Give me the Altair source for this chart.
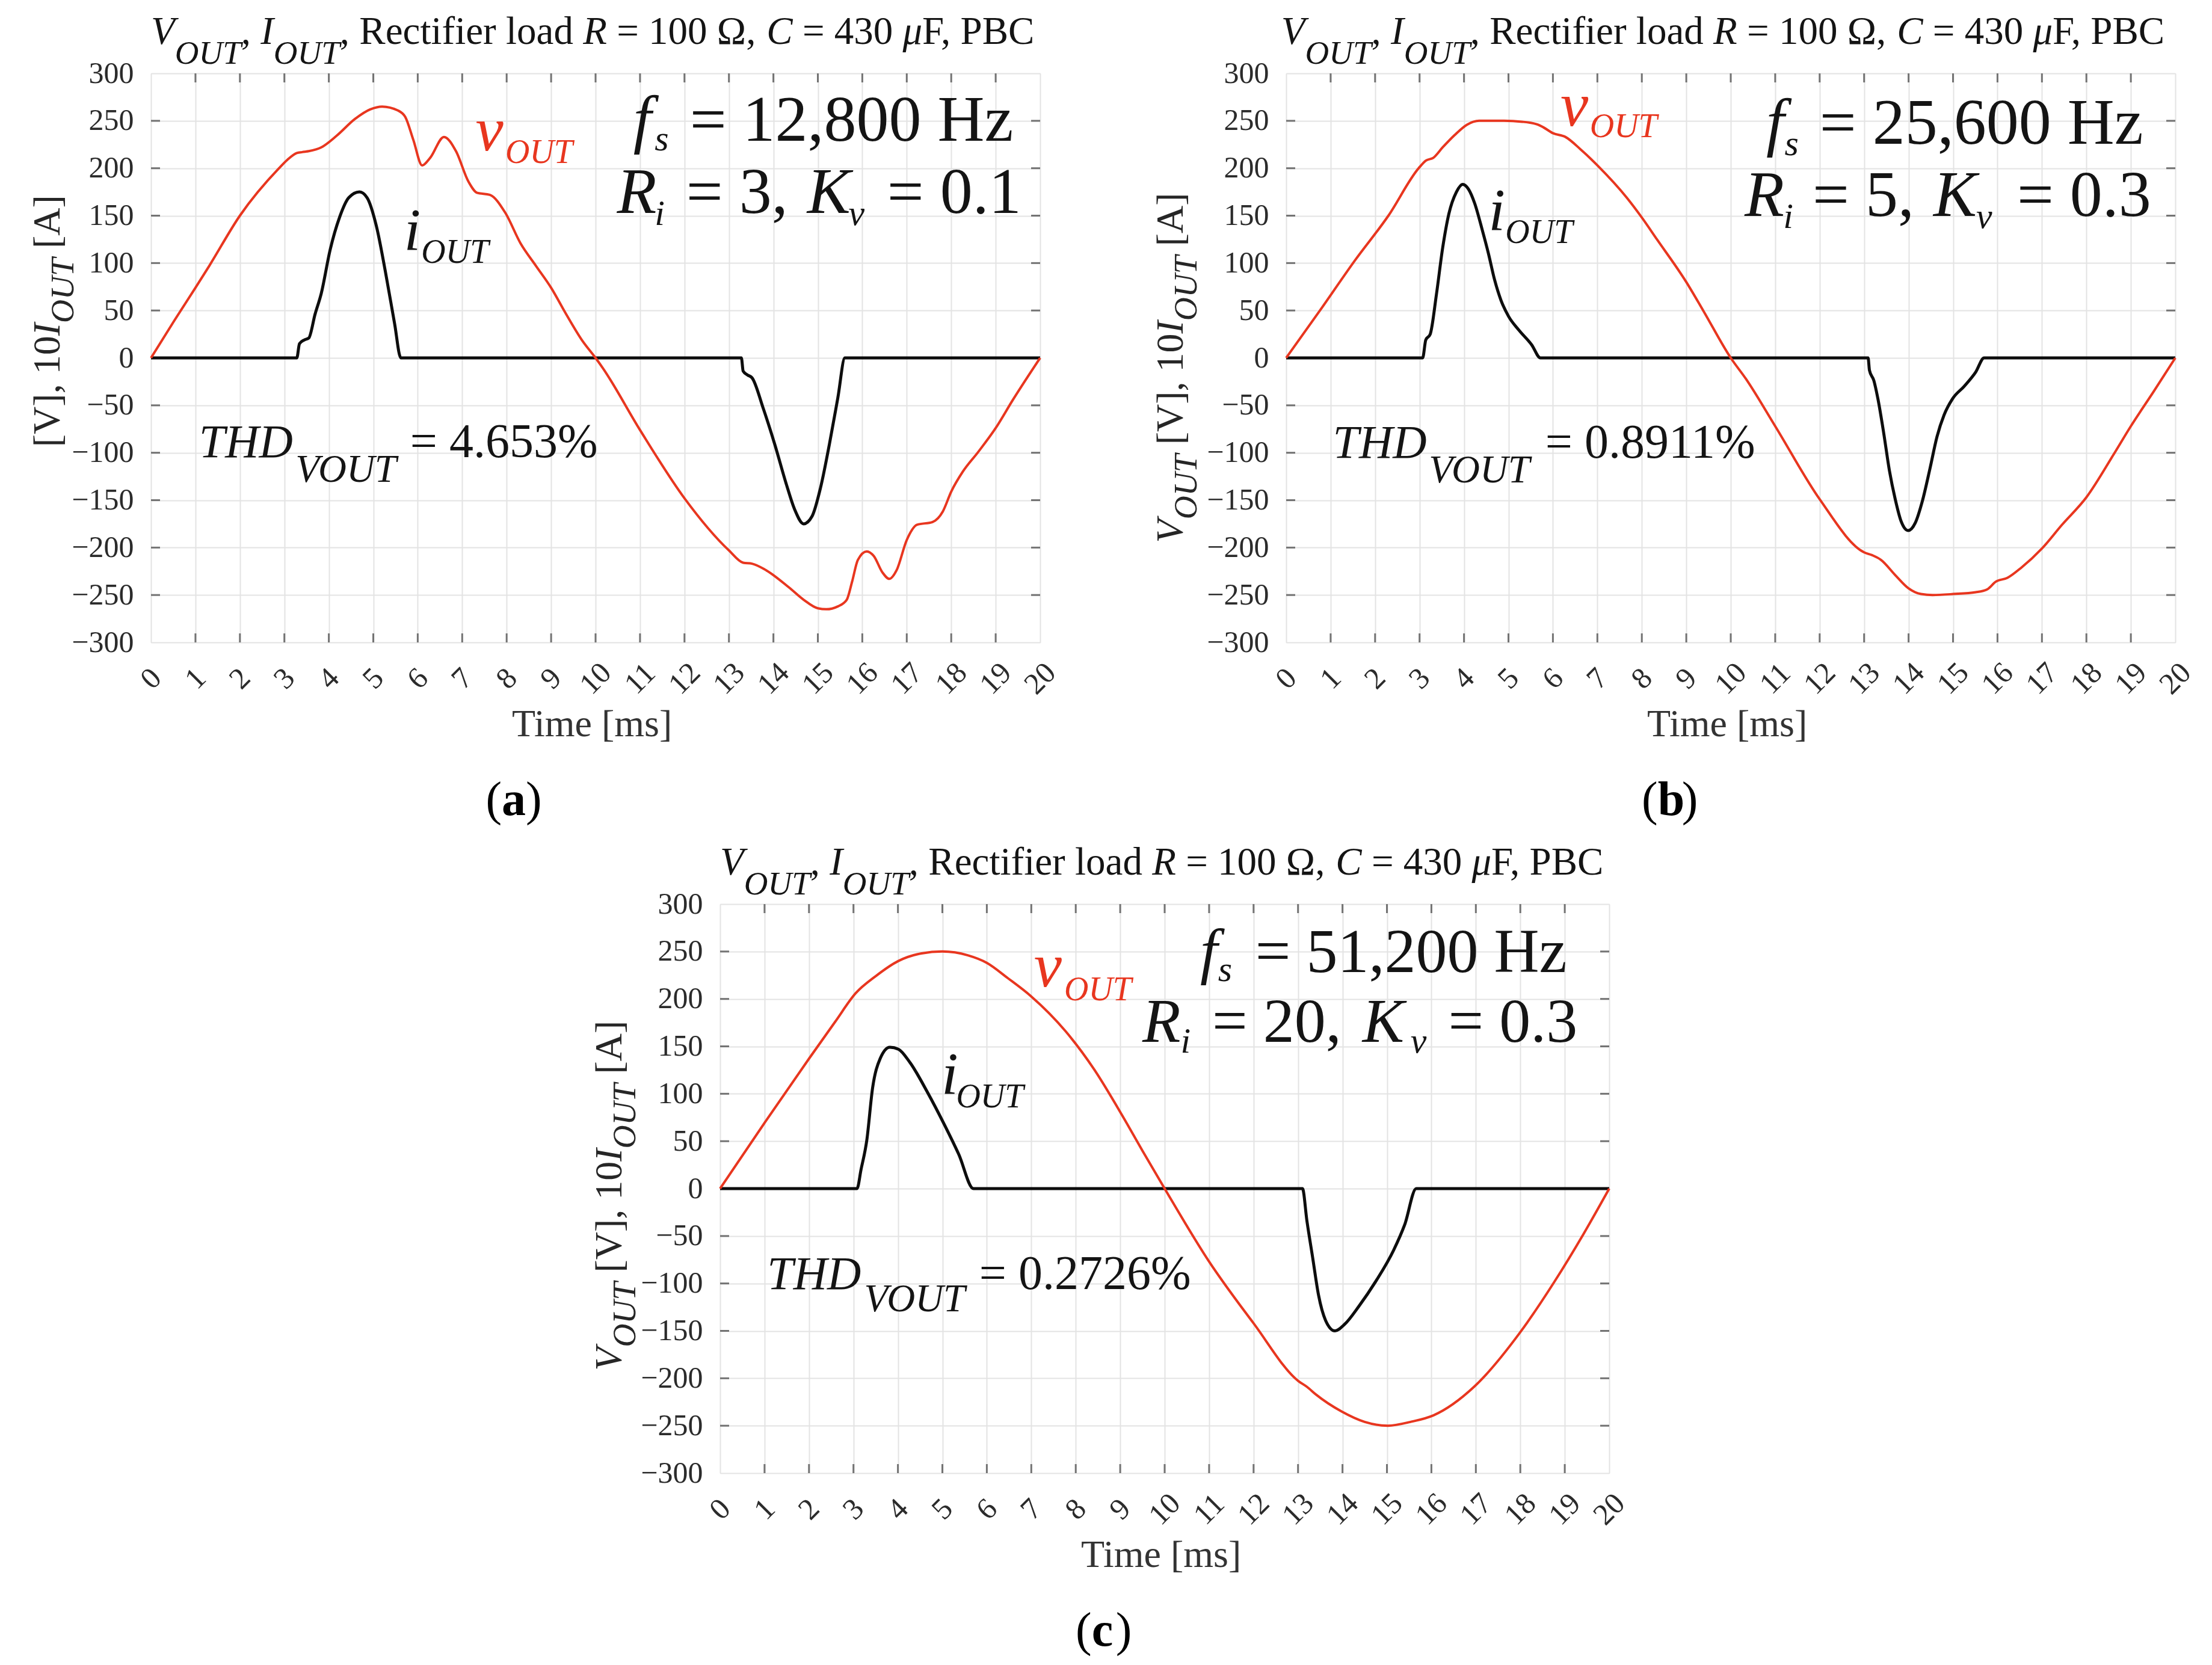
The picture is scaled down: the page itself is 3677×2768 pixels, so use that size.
import altair as alt
import pandas as pd

# ---------------- data ----------------
# panel (a)  fs = 12,800 Hz
a_vt = [0, 0.52, 1.0, 1.31, 2.0, 2.88, 3.07, 3.28, 3.4, 3.55, 3.83, 4.17, 4.59, 4.93, 5.2, 5.55, 5.72, 5.9, 6.1,
        6.28, 6.59, 6.86, 7.14, 7.34, 7.62, 7.97, 8.31, 8.66, 9.0, 9.34, 9.69, 10.0, 10.16, 11.0, 12.0, 13.0, 13.32,
        13.52, 13.84, 14.35, 14.68, 15.0, 15.19, 15.45, 15.65, 15.77, 15.9, 16.1, 16.26, 16.45, 16.61, 16.77, 17.0,
        17.23, 17.58, 17.81, 18.0, 18.26, 18.61, 19.0, 19.39, 20.0]
a_v = [0, 39, 74, 97, 150, 200, 209, 216, 217, 218, 222, 234, 252, 262, 265, 261, 254, 230, 203,
       211, 233, 218, 186, 174, 172, 153, 121, 97, 74, 46, 19, 0, -10.5, -76, -148, -203, -216,
       -217, -224, -242, -255, -264, -265, -262, -255, -236, -213, -204, -209, -226, -233, -224, -192,
       -176, -173, -162, -141, -120, -99, -74, -44, 0]
a_it = [0, 3.28, 3.34, 3.45, 3.55, 3.69, 3.83, 4.03, 4.24, 4.45, 4.69, 4.86, 5.07, 5.28, 5.48, 5.62,
        13.28, 13.32, 13.42, 13.52, 13.77, 14.03, 14.29, 14.48, 14.68, 14.87, 15.06, 15.26, 15.45, 15.61, 20]
a_i = [0, 0, 15, 19, 21, 46, 68, 114, 148, 169, 175, 169, 139, 89, 36, 0,
       0, -14, -18, -21, -53, -91, -133, -160, -175, -167, -137, -91, -42, 0, 0]

# panel (b)  fs = 25,600 Hz
b_vt = [0, 0.76, 1.55, 2.3, 2.98, 3.14, 3.31, 3.52, 3.79, 4.07, 4.34, 4.9, 5.31, 5.66, 5.79, 6.0, 6.28,
        6.62, 7.0, 7.66, 8.0, 8.34, 9.0, 9.38, 10.0, 10.34, 11.0, 12.0, 13.0, 13.18, 13.38, 13.7, 14.0, 14.28,
        14.54, 15.0, 15.51, 15.77, 15.96, 16.22, 16.54, 17.0, 17.45, 18.0, 18.61, 19.0, 19.52, 20]
b_v = [0, 50, 103, 150, 200, 208, 211, 222, 235, 246, 250, 250, 249, 246, 243, 237, 233,
       220, 203, 169, 148, 125, 80, 50, 0, -22, -72, -149, -205, -208, -213, -229, -243, -249,
       -250, -249, -247, -244, -236, -232, -221, -201, -176, -147, -102, -72, -35, 0]
b_it = [0, 3.07, 3.14, 3.24, 3.38, 3.52, 3.66, 3.83, 3.97, 4.1, 4.24, 4.41, 4.55, 4.69, 4.83, 5.0, 5.24, 5.52, 5.72,
        13.09, 13.12, 13.22, 13.31, 13.44, 13.57, 13.7, 13.83, 13.99, 14.15, 14.31, 14.48, 14.64, 14.8, 14.99,
        15.25, 15.51, 15.7, 20]
b_i = [0, 0, 19, 25, 67, 116, 152, 175, 183, 178, 163, 135, 110, 82, 61, 44, 29, 14, 0,
       0, -13, -24, -43, -79, -119, -149, -172, -182, -174, -151, -117, -83, -60, -43,
       -30, -15, 0, 0]

# panel (c)  fs = 51,200 Hz
c_vt = [0, 1.01, 2.0, 2.59, 3.05, 3.5, 4.01, 4.53, 5.0, 5.57, 6.0, 6.47, 6.99, 7.77, 8.41, 9.06, 9.5, 10.0, 11.0,
        12.0, 13.01, 13.2, 13.4, 13.98, 14.5, 15.02, 15.53, 16.05, 16.96, 17.99, 18.77, 19.42, 20]
c_v = [0, 70, 137, 176, 206, 224, 240, 248, 250, 246, 238, 222, 203, 166, 126, 76, 40, 0, -77,
       -142, -203, -209, -217, -235, -246, -250, -246, -239, -209, -152, -98, -48, 0]
c_it = [0, 3.08, 3.17, 3.3, 3.43, 3.6, 3.82, 4.01, 4.27, 4.66, 5.05, 5.37, 5.7,
        13.1, 13.2, 13.33, 13.46, 13.62, 13.83, 14.05, 14.37, 14.76, 15.15, 15.4, 15.66, 20]
c_i = [0, 0, 20, 51, 106, 137, 149, 147, 133, 102, 67, 36, 0,
       0, -34, -73, -112, -139, -150, -143, -124, -97, -65, -38, 0, 0]

x_ticks = list(range(0, 21))
y_ticks = list(range(-300, 301, 50))

fs_labels = ["12,800 Hz", "25,600 Hz", "51,200 Hz"]
ri_labels = ["3,", "5,", "20,"]
kv_labels = ["0.1", "0.3", "0.3"]
thd_labels = ["4.653%", "0.8911%", "0.2726%"]
panel_letters = ["a", "b", "c"]

# ---------------- geometry / style ----------------
W, H = 1478, 946
PX_T = W / 20.0
PX_V = H / 600.0
FONT = "Liberation Serif"
RED = "#e8361f"
BLACK = "#0d0d0d"
BOX = "#737373"
GRID = "#e3e3e3"
LABEL = "#2b2b2b"
TXT = "#141414"

W_REG = {' ': .25, ',': .25, '.': .25, '=': .564, '%': .833, '[': .333, ']': .333, '(': .333, ')': .333,
         'A': .722, 'B': .667, 'C': .667, 'D': .722, 'F': .556, 'H': .722, 'I': .333, 'K': .722, 'O': .722,
         'P': .556, 'R': .667, 'T': .611, 'U': .722, 'V': .722, 'a': .444, 'c': .444, 'd': .5, 'e': .444,
         'f': .333, 'i': .278, 'l': .278, 'm': .778, 'o': .5, 'r': .333, 's': .389, 't': .278, 'z': .444,
         'Ω': .768, 'μ': .576}
W_IT = {'V': .611, 'O': .722, 'U': .722, 'T': .556, 'I': .333, 'R': .611, 'C': .667, 'H': .722, 'D': .722,
        'K': .667, 'f': .278, 's': .389, 'i': .278, 'v': .444, 'μ': .5, ' ': .25}


def text_width(text, style, size):
    tab = W_IT if style == "italic" else W_REG
    return sum(tab.get(ch, W_REG.get(ch, .5)) for ch in text) * size


def seq(pieces, t0, v0, shift_px, color, vertical=False):
    rows = []
    cur = 0.0
    for text, style, size, sub in pieces:
        stripped = text.lstrip(" ")
        lead = (len(text) - len(stripped)) * 0.25 * size
        shown = stripped.rstrip(" ")
        if vertical:
            x = t0 + (shift_px / PX_T if sub else 0)
            y = v0 + (cur + lead) / PX_V
            ang = 270
        else:
            x = t0 + (cur + lead) / PX_T
            y = v0 - (shift_px / PX_V if sub else 0)
            ang = 0
        rows.append(dict(x=x, y=y, text=shown, size=size, style=style, color=color, angle=ang))
        cur += text_width(text, style, size)
    return rows


def title_rows(t0):
    m, s = 65, 55
    pcs = [("V", "italic", m, False), ("OUT", "italic", s, True), (", ", "normal", m, False),
           ("I", "italic", m, False), ("OUT", "italic", s, True), (", Rectifier load ", "normal", m, False),
           ("R", "italic", m, False), (" = 100 Ω, ", "normal", m, False), ("C", "italic", m, False),
           (" = 430 ", "normal", m, False), ("μ", "italic", m, False), ("F, PBC", "normal", m, False)]
    return seq(pcs, t0, 331, 33, TXT)


def ytitle_rows(t0, v0, full=True):
    pcs = []
    if full:
        pcs += [("V", "italic", 64, False), ("OUT", "italic", 54, True), (" [V], 10", "normal", 64, False)]
    else:
        pcs += [("[V], 10", "normal", 64, False)]
    pcs += [("I", "italic", 64, False), ("OUT", "italic", 54, True), (" [A]", "normal", 64, False)]
    return seq(pcs, t0, v0, 23, "#262626", vertical=True)


def row(text, x, y, size, style="normal", color=TXT, angle=0):
    return dict(x=x, y=y, text=text, size=size, style=style, color=color, angle=angle)


def annotations(k, P):
    big = P["big"]
    rows = []
    rows += title_rows(P["title_t"])
    rows += ytitle_rows(P["yt_t"], P["yt_v"], full=(k != 0))
    rows.append(row("f", P["f"][0], P["f"][1], big, "italic"))
    rows.append(row("s", P["s"][0], P["s"][1], 60, "italic"))
    rows.append(row("= " + fs_labels[k], P["fs"], P["f"][1], big))
    rows.append(row("R", P["R"][0], P["R"][1], big, "italic"))
    rows.append(row("i", P["Ri"][0], P["Ri"][1], 60, "italic"))
    rows.append(row("= " + ri_labels[k], P["ri"], P["R"][1], big))
    rows.append(row("K", P["K"], P["R"][1], big, "italic"))
    rows.append(row("v", P["Kv"], P["Ri"][1], 60, "italic"))
    rows.append(row("= " + kv_labels[k], P["kv"], P["R"][1], big))
    rows.append(row("v", P["vl"][0], P["vl"][1], 104, "italic", RED))
    rows.append(row("OUT", P["vs"][0], P["vs"][1], 56, "italic", RED))
    rows.append(row("i", P["il"][0], P["il"][1], 100, "italic"))
    rows.append(row("OUT", P["isb"][0], P["isb"][1], 56, "italic"))
    rows.append(row("THD", P["thd"][0], P["thd"][1], 78, "italic"))
    rows.append(row("VOUT", P["thds"][0], P["thds"][1], 65, "italic"))
    rows.append(row("= " + thd_labels[k], 5.83, P["thd"][1], 80))
    rows.append(row("Time [ms]", 8.12, -399, 64, "normal", "#333333"))
    lc = P["letter"]
    w80 = 80 / PX_T
    rows.append(row("(", lc - 0.583 * w80, -482, 80, "normal", "#000000"))
    rows.append(row(panel_letters[k], lc - 0.25 * w80, -482, 80, "bold", "#000000"))
    rows.append(row(")", lc + 0.25 * w80, -482, 80, "normal", "#000000"))
    return pd.DataFrame(rows)


PANEL_POS = [
    dict(title_t=0.0, yt_t=-2.06, yt_v=-94, big=108, f=(10.85, 229), s=(11.33, 218.5), fs=12.12,
         R=(10.48, 153), Ri=(11.33, 140), ri=12.04, K=14.76, Kv=15.69, kv=16.56,
         vl=(7.3, 218.5), vs=(7.97, 205.3), il=(5.69, 114), isb=(6.08, 100.4),
         thd=(1.08, -104.6), thds=(3.25, -130.8), letter=8.16,
         L=242, T=113, Rm=60, B=318),
    dict(title_t=-0.11, yt_t=-2.33, yt_v=-195, big=108, f=(10.8, 226), s=(11.21, 214), fs=12.0,
         R=(10.31, 150), Ri=(11.18, 137), ri=11.84, K=14.56, Kv=15.52, kv=16.44,
         vl=(6.17, 245), vs=(6.83, 232.6), il=(4.55, 135), isb=(4.93, 121.4),
         thd=(1.05, -105), thds=(3.21, -131.6), letter=8.63,
         L=242, T=113, Rm=40, B=318),
    dict(title_t=0.0, yt_t=-2.22, yt_v=-192, big=104, f=(10.8, 228.5), s=(11.2, 218.5), fs=12.04,
         R=(9.5, 155), Ri=(10.36, 143.5), ri=11.07, K=14.45, Kv=15.53, kv=16.38,
         vl=(7.06, 212.8), vs=(7.74, 198.4), il=(4.98, 100), isb=(5.31, 85.6),
         thd=(1.06, -106), thds=(3.24, -129.6), letter=8.63,
         L=242, T=110, Rm=40, B=318),
]

xs = alt.Scale(domain=[0, 20], nice=False, zero=False)
ys = alt.Scale(domain=[-300, 300], nice=False, zero=False)

x_axis = alt.Axis(values=x_ticks, grid=True, gridColor=GRID, gridWidth=2, domain=False, ticks=False, tickSize=0,
                  labelAngle=315, labelAlign="center", labelBaseline="middle", labelPadding=60,
                  labelFont=FONT, labelFontSize=50, labelColor=LABEL, labelFlush=False, labelOverlap=False,
                  title=None)
y_axis = alt.Axis(values=y_ticks, grid=True, gridColor=GRID, gridWidth=2, domain=False, ticks=False, tickSize=0,
                  labelAlign="right", labelBaseline="middle", labelPadding=29,
                  labelFont=FONT, labelFontSize=50, labelColor=LABEL, labelFlush=False, labelOverlap=False,
                  title=None)


def X(field):
    return alt.X(field, scale=xs, axis=x_axis)


def Y(field):
    return alt.Y(field, scale=ys, axis=y_axis)


def tick_frame():
    lt = 15 / PX_T
    lv = 15 / PX_V
    rows = []
    for t in x_ticks[1:-1]:
        rows.append(dict(x=t, x2=t, y=-300, y2=-300 + lv))
        rows.append(dict(x=t, x2=t, y=300, y2=300 - lv))
    for v in y_ticks[1:-1]:
        rows.append(dict(x=0, x2=lt, y=v, y2=v))
        rows.append(dict(x=20, x2=20 - lt, y=v, y2=v))
    return pd.DataFrame(rows)


def panel(k, vt, vv, it, iv):
    P = PANEL_POS[k]
    dv = pd.DataFrame({"t": vt, "v": vv})
    di = pd.DataFrame({"t": it, "v": iv})
    ann = annotations(k, P)

    ticks = alt.Chart(tick_frame()).mark_rule(color=BOX, strokeWidth=3).encode(
        x=X("x:Q"), x2="x2:Q", y=Y("y:Q"), y2="y2:Q")
    black = alt.Chart(di).mark_line(color=BLACK, strokeWidth=5, interpolate="monotone").encode(
        x=X("t:Q"), y=Y("v:Q"))
    red = alt.Chart(dv).mark_line(color=RED, strokeWidth=4, interpolate="monotone").encode(
        x=X("t:Q"), y=Y("v:Q"))

    layers = [ticks, black, red]
    for style in ["normal", "italic", "bold"]:
        sub = ann[ann["style"] == style]
        layers.append(
            alt.Chart(sub).mark_text(align="left", baseline="alphabetic", font=FONT,
                                     fontStyle=("italic" if style == "italic" else "normal"),
                                     fontWeight=("bold" if style == "bold" else "normal")).encode(
                x=X("x:Q"), y=Y("y:Q"),
                text="text:N", size=alt.Size("size:Q", scale=None),
                angle=alt.Angle("angle:Q", scale=None), color=alt.Color("color:N", scale=None)))

    anchors = pd.DataFrame({
        "x": [-P["L"] / PX_T, 20 + P["Rm"] / PX_T],
        "y": [300 + P["T"] / PX_V, -300 - P["B"] / PX_V]})
    layers.append(alt.Chart(anchors).mark_square(size=1, color="white", opacity=1).encode(
        x=X("x:Q"), y=Y("y:Q")))

    return alt.layer(*layers).properties(width=W, height=H)


pa = panel(0, a_vt, a_v, a_it, a_i)
pb = panel(1, b_vt, b_v, b_it, b_i)
pc = panel(2, c_vt, c_v, c_it, c_i)

spacer = alt.Chart(pd.DataFrame({"k": [0]})).mark_point(opacity=0, size=1).encode(
    x=alt.value(2), y=alt.value(2)).properties(width=598, height=4,
                                               view=alt.ViewBackground(strokeOpacity=0))

top = alt.hconcat(pa, pb, spacing=105, bounds="full")
bottom = alt.hconcat(spacer, pc, spacing=105, bounds="full")
chart = alt.vconcat(top, bottom, spacing=5, bounds="full").properties(padding=0, background="white")
chart = chart.configure_view(stroke=BOX, strokeWidth=3).configure(font=FONT)

chart.save("out.html", embed_options={"renderer": "svg", "actions": False})
